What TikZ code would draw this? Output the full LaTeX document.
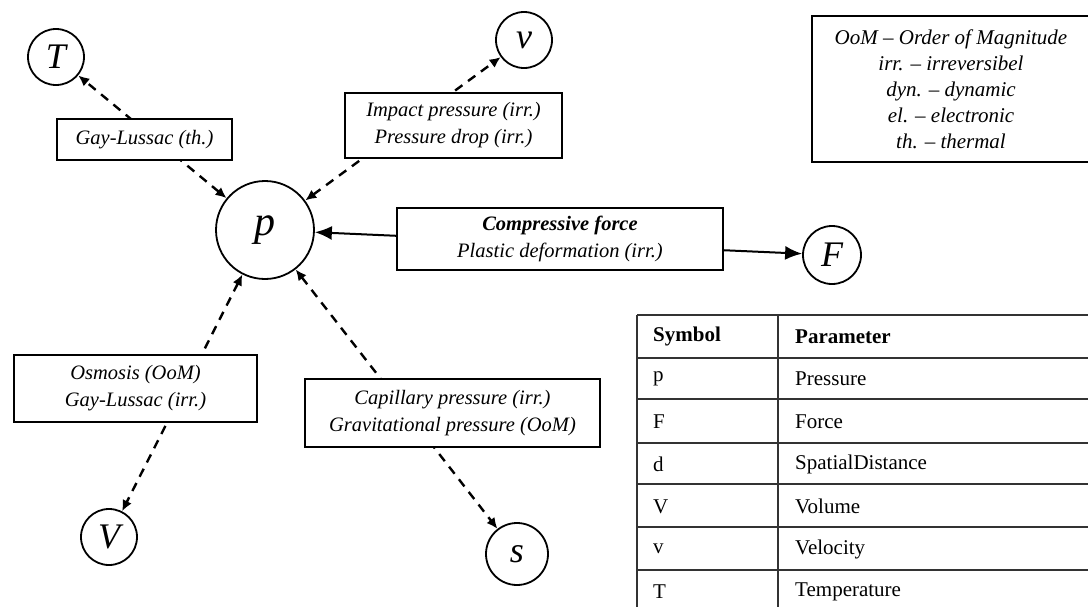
\documentclass[tikz,border=0pt]{standalone}
\usepackage{fontspec}
\setmainfont{Liberation Serif}
\usetikzlibrary{arrows.meta,positioning}

\tikzset{
  var/.style={draw,circle,line width=1.8pt,inner sep=0pt,
    font=\fontsize{36}{38}\selectfont\itshape},
  effect/.style={draw,line width=2pt,fill=white,inner sep=0pt,align=center,
    font=\fontsize{20.5}{27}\selectfont\itshape},
  link/.style={line width=2.4pt,dash pattern=on 9pt off 7pt,
    {Latex[length=11pt,width=10pt]}-{Latex[length=11pt,width=10pt]}},
  push/.style={line width=2pt,
    {Latex[length=17pt,width=14pt]}-{Latex[length=17pt,width=14pt]}},
  tabtext/.style={anchor=west,inner sep=0pt,font=\fontsize{21}{24}\selectfont}
}

\begin{document}
\begin{tikzpicture}[x=1pt,y=-1pt]
\useasboundingbox (0,0) rectangle (1088,606);
\clip (0,0) rectangle (1088,606);

\node[var,minimum size=56pt] (T) at (56,57) {T};
\node[var,minimum size=56pt] (v) at (524,40) {v};
\node[var,minimum size=98pt,font=\fontsize{42}{44}\selectfont\itshape] (p) at (265,230) {p};
\node[var,minimum size=58pt] (F) at (832,255) {F};
\node[var,minimum size=56pt] (V) at (109,537) {V};
\node[var,minimum size=62pt] (s) at (517,554) {s};

\draw[link] (p) -- (T);
\draw[link] (p) -- (v);
\draw[link] (p) -- (V);
\draw[link] (p) -- (s);
\draw[push] (p) -- (F);

\node[effect,minimum width=175pt,minimum height=41pt] (gl) at (144.5,139.5) {Gay-Lussac (th.)};
\node[effect,minimum width=217pt,minimum height=65pt] (imp) at (453.5,125.5) {Impact pressure (irr.)\\Pressure drop (irr.)};
\node[effect,minimum width=326pt,minimum height=62pt] (comp) at (560,239) {\textbf{Compressive force}\\Plastic deformation (irr.)};
\node[effect,minimum width=243pt,minimum height=67pt] (osm) at (135.5,388.5) {Osmosis (OoM)\\Gay-Lussac (irr.)};
\node[effect,minimum width=295pt,minimum height=68pt] (cap) at (452.5,413) {Capillary pressure (irr.)\\Gravitational pressure (OoM)};

\node[effect,minimum width=278pt,minimum height=146pt,font=\fontsize{21}{26}\selectfont\itshape] (legend) at (951,89)
  {OoM -- Order of Magnitude\\irr. -- irreversibel\\dyn. -- dynamic\\el. -- electronic\\th. -- thermal};

% table
\foreach \yy in {315,358,399,443,484,527,570}
  \draw[line width=1.6pt,black!80] (637,\yy) -- (1100,\yy);
\draw[line width=1.6pt,black!80] (637,315) -- (637,620);
\draw[line width=1.6pt,black!80] (778,315) -- (778,620);
\foreach \sym/\prm [count=\i] in {\textbf{Symbol}/\textbf{Parameter},p/Pressure,F/Force,d/SpatialDistance,V/Volume,v/Velocity,T/Temperature}{
  \node[tabtext] (sym\i) at (653,315+42.5*\i-21) {\sym};
  \node[tabtext] (par\i) at (795,315+42.5*\i-21) {\prm};
}
\end{tikzpicture}
\end{document}
